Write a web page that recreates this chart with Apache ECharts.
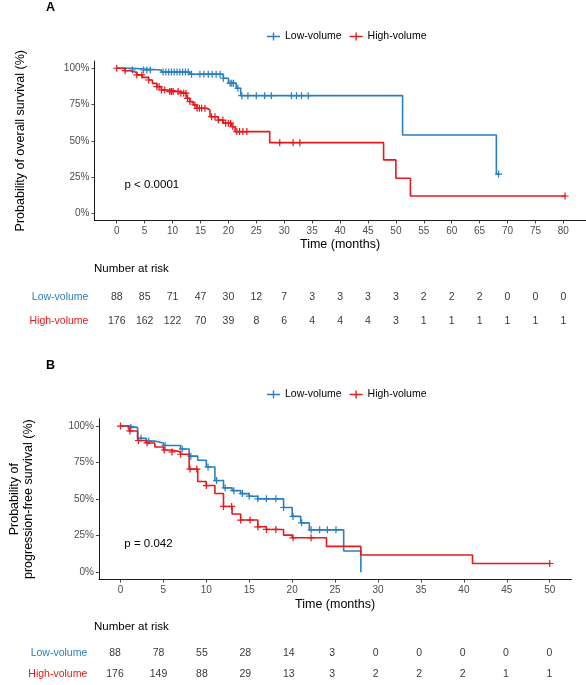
<!DOCTYPE html>
<html>
<head>
    <meta charset="utf-8">
    <title>Kaplan-Meier</title>
    <script src="https://cdn.jsdelivr.net/npm/echarts@6/dist/echarts.min.js"></script>
    <style>
        body { margin: 0; background: #fff; }
        #main { width: 586px; height: 685px; }
    </style>
</head>
<body>
<div id="main"></div>
<script type="text/javascript">
    // ---- data ----
    // panel A, overall survival: step times (months) and survival after each step
    var lowOsTimes = [0, 2.7, 8.0, 13.1, 19.1, 20.0, 21.4, 22.2, 51.2, 68.0];
    var lowOsSurv = [1, 0.988, 0.974, 0.959, 0.931, 0.897, 0.862, 0.811, 0.54, 0.27];
    var lowOsCens = [2.8, 4.8, 5.4, 6.0, 8.3, 8.8, 9.3, 9.8, 10.3, 10.8, 11.3, 11.8, 12.3, 12.8, 13.4,
        14.9, 15.6, 16.4, 17.1, 17.8, 18.5, 19.1, 20.3, 20.6, 20.9, 21.7, 22.4, 23.5, 25.0, 26.5, 27.7,
        31.3, 32.2, 33.1, 34.3, 68.4];
    var highOsTimes = [0, 1.5, 2.4, 3.6, 4.6, 5.7, 6.4, 7.2, 8.0, 9.5, 11.3, 12.5, 13.1, 13.7, 14.3,
        16.1, 16.7, 18.2, 19.1, 20.6, 21.2, 27.4, 47.8, 50.0, 52.6];
    var highOsSurv = [1, 0.983, 0.97, 0.954, 0.937, 0.919, 0.896, 0.873, 0.85, 0.839, 0.828, 0.793, 0.77,
        0.747, 0.724, 0.712, 0.666, 0.643, 0.621, 0.597, 0.563, 0.487, 0.368, 0.241, 0.119];
    var highOsCens = [0, 1.5, 3.6, 4.5, 5.7, 7.2, 7.6, 8.0, 8.6, 9.5, 9.8, 10.1, 11.0, 11.5, 12.0, 12.4,
        12.7, 13.1, 14.0, 14.4, 14.8, 15.2, 15.8, 17.0, 17.6, 18.2, 19.0, 19.5, 20.0, 20.4, 20.8, 21.5,
        22.0, 22.6, 23.3, 29.2, 31.6, 32.8, 80.3];

    // panel B, progression-free survival
    var lowPfsTimes = [0, 1.0, 2.0, 3.0, 4.0, 5.0, 7.0, 8.0, 9.0, 10.0, 11.0, 12.0, 13.0, 14.0, 15.0,
        16.0, 19.0, 20.0, 21.0, 22.0, 26.0, 28.0];
    var lowPfsSurv = [1, 0.989, 0.916, 0.897, 0.884, 0.867, 0.843, 0.794, 0.766, 0.72, 0.627, 0.577,
        0.558, 0.538, 0.52, 0.502, 0.443, 0.382, 0.338, 0.29, 0.146, 0];
    var lowPfsCens = [1.2, 2.4, 3.3, 5.2, 7.2, 8.2, 10.2, 11.2, 12.2, 13.2, 14.2, 15.0, 16.0, 17.0, 18.1,
        19.0, 20.1, 21.1, 22.2, 23.2, 24.1, 25.1];
    var highPfsTimes = [0, 1.0, 2.0, 3.0, 4.0, 5.0, 6.0, 7.0, 8.0, 9.0, 10.0, 11.0, 12.0, 13.0, 14.0,
        16.0, 17.0, 19.0, 20.0, 24.0, 28.0, 41.0];
    var highPfsSurv = [1, 0.966, 0.901, 0.884, 0.857, 0.836, 0.823, 0.807, 0.706, 0.621, 0.593, 0.539,
        0.45, 0.398, 0.357, 0.311, 0.293, 0.254, 0.236, 0.177, 0.118, 0.06];
    var highPfsCens = [0, 1.1, 2.1, 3.1, 5.1, 6.0, 7.0, 8.1, 8.9, 10.0, 12.0, 12.95, 14.0, 15.1, 16.0,
        17.0, 18.1, 20.1, 22.2, 50];

    // ticks and number-at-risk tables
    var ticksA = [0, 5, 10, 15, 20, 25, 30, 35, 40, 45, 50, 55, 60, 65, 70, 75, 80];
    var ticksB = [0, 5, 10, 15, 20, 25, 30, 35, 40, 45, 50];
    var yTicks = [0, 0.25, 0.5, 0.75, 1];
    var riskLowA = [88, 85, 71, 47, 30, 12, 7, 3, 3, 3, 3, 2, 2, 2, 0, 0, 0];
    var riskHighA = [176, 162, 122, 70, 39, 8, 6, 4, 4, 4, 3, 1, 1, 1, 1, 1, 1];
    var riskLowB = [88, 78, 55, 28, 14, 3, 0, 0, 0, 0, 0];
    var riskHighB = [176, 149, 88, 29, 13, 3, 2, 2, 2, 1, 1];
    var groups = ['Low-volume', 'High-volume'];

    var blue = '#2a7fc0';
    var red = '#e41a1c';
    var font = 'Liberation Sans, Arial, sans-serif';
    var plus = 'path://M-0.7,-4h1.4v3.3h3.3v1.4h-3.3v3.3h-1.4v-3.3h-3.3v-1.4h3.3z';
    var legendIcon = 'path://M0,3.3h5.8v-3.3h1.4v3.3h5.8v1.4h-5.8v3.3h-1.4v-3.3h-5.8z';

    // survival value in force at time t
    function stepAt(times, surv, t) {
        var s = surv[0];
        for (var i = 0; i < times.length; i++) {
            if (times[i] <= t) s = surv[i];
        }
        return s;
    }

    function kmLine(times, surv, cens) {
        var pts = times.map(function (t, i) { return [t, surv[i]]; });
        var last = Math.max.apply(null, cens);
        if (last > times[times.length - 1]) pts.push([last, surv[surv.length - 1]]);
        return pts;
    }

    function kmCens(times, surv, cens) {
        return cens.map(function (t) { return [t, stepAt(times, surv, t)]; });
    }

    function riskRows(ticks, low, high) {
        var out = [];
        ticks.forEach(function (t, i) {
            out.push([t, groups[0], low[i]]);
            out.push([t, groups[1], high[i]]);
        });
        return out;
    }

    function kmSeries(name, color, axis, times, surv, cens) {
        return [{
            name: name, type: 'line', step: 'end',
            xAxisIndex: axis, yAxisIndex: axis,
            showSymbol: false, symbol: 'none',
            lineStyle: { color: color, width: 1.6 },
            itemStyle: { color: color },
            data: kmLine(times, surv, cens)
        }, {
            name: name, type: 'scatter',
            xAxisIndex: axis, yAxisIndex: axis,
            symbol: plus, symbolSize: 7,
            itemStyle: { color: color, opacity: 1 },
            data: kmCens(times, surv, cens)
        }];
    }

    function plotX(min, max, ticks, grid) {
        return {
            type: 'value', gridIndex: grid, min: min, max: max,
            name: 'Time (months)', nameLocation: 'middle', nameGap: 18,
            nameTextStyle: { fontFamily: font, fontSize: 12.5, color: '#000' },
            axisLine: { show: true, onZero: false, lineStyle: { color: '#000', width: 0.9 } },
            axisTick: { show: true, length: 3, customValues: ticks, lineStyle: { color: '#333', width: 0.9 } },
            axisLabel: { customValues: ticks, margin: 6, fontFamily: font, fontSize: 10, color: '#4d4d4d' },
            splitLine: { show: false }
        };
    }

    function plotY(name, gap, grid) {
        return {
            type: 'value', gridIndex: grid, min: -0.05, max: 1.05,
            name: name, nameLocation: 'middle', nameGap: gap, nameRotate: 90,
            nameTextStyle: { fontFamily: font, fontSize: 12.5, color: '#000', lineHeight: 14 },
            axisLine: { show: true, onZero: false, lineStyle: { color: '#000', width: 0.9 } },
            axisTick: { show: true, length: 3, customValues: yTicks, lineStyle: { color: '#333', width: 0.9 } },
            axisLabel: {
                customValues: yTicks, margin: 5, fontFamily: font, fontSize: 10, color: '#4d4d4d',
                formatter: function (v) { return Math.round(v * 100) + '%'; }
            },
            splitLine: { show: false }
        };
    }

    function riskX(min, max, grid) {
        return { type: 'value', gridIndex: grid, min: min, max: max, show: false };
    }

    function riskY(grid) {
        return {
            type: 'category', gridIndex: grid, inverse: true, data: groups,
            axisLine: { show: false }, axisTick: { show: false }, splitLine: { show: false },
            axisLabel: {
                margin: 6, fontFamily: font, fontSize: 10.5,
                color: function (v) { return v === groups[0] ? blue : red; }
            }
        };
    }

    function riskSeries(grid, data) {
        return {
            type: 'scatter', xAxisIndex: grid, yAxisIndex: grid,
            symbolSize: 1, itemStyle: { color: 'rgba(0,0,0,0)' },
            label: {
                show: true, position: 'inside', fontFamily: font, fontSize: 10.5, color: '#000',
                formatter: function (p) { return String(p.value[2]); }
            },
            data: data
        };
    }

    function legendAt(top) {
        return {
            left: 262, top: top, itemGap: 8, itemWidth: 13, itemHeight: 8,
            icon: legendIcon,
            textStyle: { fontFamily: font, fontSize: 10.5, color: '#000' },
            data: [{ name: groups[0], itemStyle: { color: blue } }, { name: groups[1], itemStyle: { color: red } }]
        };
    }

    function label(text, x, y, size, weight) {
        return {
            type: 'text', left: x, top: y,
            style: { text: text, fontFamily: font, fontSize: size, fontWeight: weight || 'normal', fill: '#000' }
        };
    }

    var chart = echarts.init(document.getElementById('main'));

    chart.setOption({
        animation: false,
        backgroundColor: '#fff',
        legend: [legendAt(26), legendAt(384)],
        grid: [
            { left: 94.4, top: 61, width: 491.3, height: 159.5 },
            { left: 93.3, top: 418.7, width: 477.9, height: 160.9 },
            { left: 94.4, top: 285, width: 491.3, height: 48 },
            { left: 93.3, top: 643, width: 477.9, height: 48 }
        ],
        xAxis: [plotX(-4, 84, ticksA, 0), plotX(-2.5, 52.5, ticksB, 1), riskX(-4, 84, 2), riskX(-2.5, 52.5, 3)],
        yAxis: [
            plotY('Probability of overall survival (%)', 67, 0),
            plotY('Probability of\nprogression-free survival (%)', 63, 1),
            riskY(2), riskY(3)
        ],
        graphic: [
            label('A', 46, 1, 12.5, 'bold'),
            label('B', 46, 359, 12.5, 'bold'),
            label('p < 0.0001', 124.5, 179, 11.5),
            label('p = 0.042', 124.3, 538, 11.5),
            label('Number at risk', 94, 263, 11.5),
            label('Number at risk', 94, 621, 11.5)
        ],
        series: [].concat(
            kmSeries(groups[0], blue, 0, lowOsTimes, lowOsSurv, lowOsCens),
            kmSeries(groups[1], red, 0, highOsTimes, highOsSurv, highOsCens),
            kmSeries(groups[0], blue, 1, lowPfsTimes, lowPfsSurv, lowPfsCens),
            kmSeries(groups[1], red, 1, highPfsTimes, highPfsSurv, highPfsCens),
            [riskSeries(2, riskRows(ticksA, riskLowA, riskHighA)),
             riskSeries(3, riskRows(ticksB, riskLowB, riskHighB))]
        )
    });
</script>
</body>
</html>
